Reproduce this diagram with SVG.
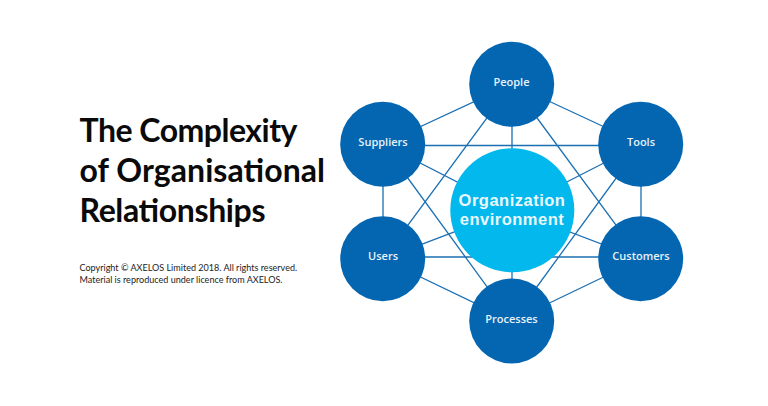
<svg xmlns="http://www.w3.org/2000/svg" width="768" height="406" viewBox="0 0 768 406">
<style>
.link{stroke:#1b70b4;stroke-width:1.3;fill:none}
.outer{fill:#0466b1}
.hub{fill:#02b8ec}
.lbl{font-family:"Open Sans","Noto Sans","Liberation Sans",sans-serif;font-size:11px;font-weight:600;fill:#e8f2f9;text-anchor:middle}
.hubt{font-family:"Liberation Sans",Arial,sans-serif;font-size:16.500px;font-weight:700;letter-spacing:.5px;fill:#eaf8fd;text-anchor:middle}
.title{font-family:"Lato","Liberation Sans",sans-serif;font-size:32px;font-weight:700;fill:#0a0a0a}
.note{font-family:"Lato","Liberation Sans",sans-serif;font-size:9.050px;fill:#222}
</style>
<rect width="768" height="406" fill="#fff"/>
<g id="connectors" class="link">
<path d="M512 84L383 144M512 84L641 144M383 144V259M641 144V259M383 259L512 321M641 259L512 321"/>
<path d="M512 84V210M512 321V210M383 144L512 210M641 144L512 210M383 259L512 210M641 259L512 210"/>
<path d="M512 84L383 259M512 84L641 259M383 144L512 321M641 144L512 321M383 145.500H641M383 257H641"/>
</g>
<g id="hub"><circle class="hub" cx="512.300" cy="210.300" r="62"/><text class="hubt" x="512" y="206">Organization</text><text class="hubt" x="512" y="225.200">environment</text></g>
<g id="people"><circle class="outer" cx="511.700" cy="84.300" r="42.500"/><text class="lbl" x="511.500" y="86">People</text></g>
<g id="suppliers"><circle class="outer" cx="382.700" cy="144.300" r="42.500"/><text class="lbl" x="383" y="146">Suppliers</text></g>
<g id="tools"><circle class="outer" cx="640.700" cy="144.300" r="42.500"/><text class="lbl" x="641" y="146">Tools</text></g>
<g id="users"><circle class="outer" cx="382.700" cy="258.700" r="42.500"/><text class="lbl" x="383" y="260">Users</text></g>
<g id="customers"><circle class="outer" cx="640.700" cy="258.700" r="42.500"/><text class="lbl" x="641" y="260">Customers</text></g>
<g id="processes"><circle class="outer" cx="511.700" cy="321" r="42.500"/><text class="lbl" x="511.500" y="322.500">Processes</text></g>
<g id="heading">
<text class="title" x="79.500" y="142" textLength="218">The Complexity</text>
<text class="title" x="79.500" y="182" textLength="245.500">of Organisational</text>
<text class="title" x="79.500" y="222" textLength="186">Relationships</text>
<text class="note" x="79.500" y="271">Copyright © AXELOS Limited 2018. All rights reserved.</text>
<text class="note" x="79.500" y="283">Material is reproduced under licence from AXELOS.</text>
</g>
</svg>
